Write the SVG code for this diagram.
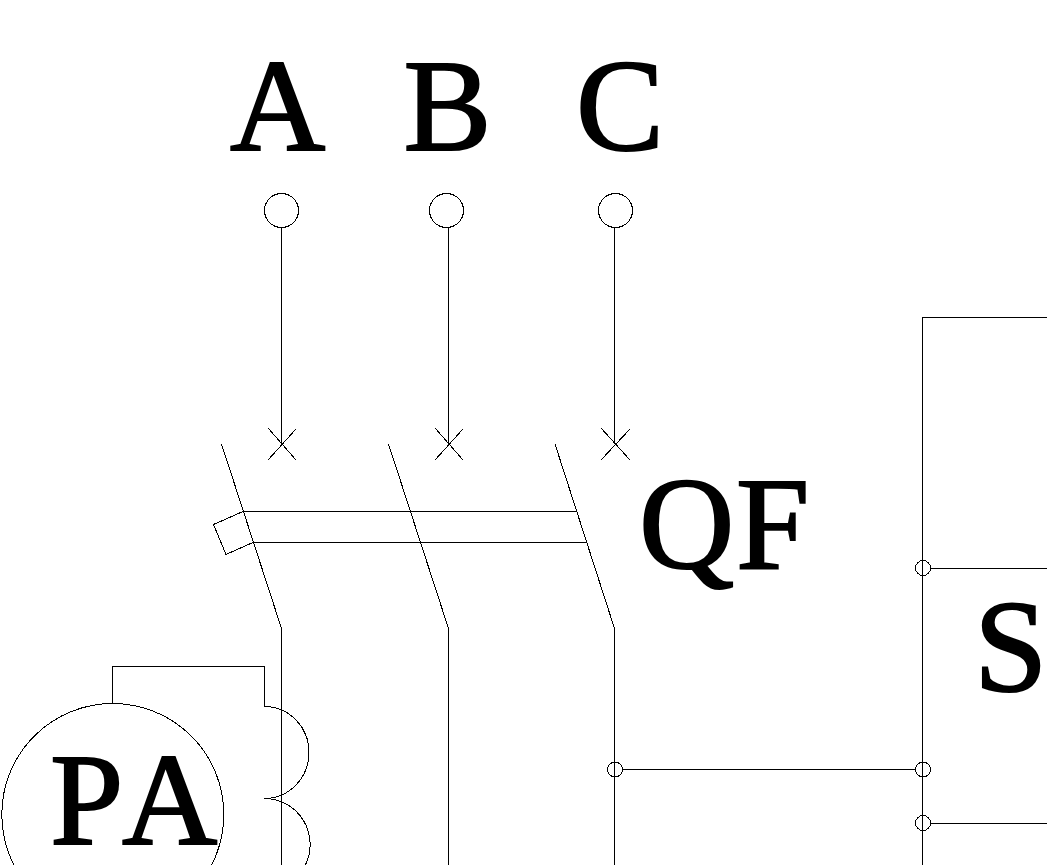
<svg xmlns="http://www.w3.org/2000/svg" width="1047" height="865" viewBox="0 0 1047 865">
<style>
.l{fill:none;stroke:#000;stroke-width:1;shape-rendering:crispEdges}
.t{font-family:"Liberation Serif","Times New Roman",serif;font-size:132px;fill:#000;stroke:#000;stroke-width:2;font-kerning:none}
</style>
<rect width="1047" height="865" fill="#fff"/>
<g id="connectors">
<path class="l" d="M281.500 227V444M448.500 227V444M614.500 227V444"/>
<path class="l" d="M268 428L296 460M296 429L268 460M435 428L463 460M463 429L435 460M601 428L630 460M630 429L601 460"/>
<path class="l" d="M221.500 444L281.500 628.500V865M388.500 444L448.500 628.500V865M555 444L614.500 628.500V865"/>
<path class="l" d="M243 511.500H576M253 542.500H586"/>
<path class="l" d="M243 511.500L213.500 524.500L226 554.500L253 542.500"/>
<path class="l" d="M112.500 703V666.500H264.500V706.500"/>
<path class="l" d="M264.500 706.500A44.500 46 0 0 1 264.500 798.500A45.500 46 0 0 1 305.400 865"/>
<path class="l" d="M922.500 317V865M922.500 317.500H1047M930 568.500H1047M622 769.500H916M930 823.500H1047"/>
</g>
<g id="node-a"><circle class="l" cx="281.500" cy="210.500" r="17"/><text class="t" x="230" y="150">A</text></g>
<g id="node-b"><circle class="l" cx="446.500" cy="210.500" r="17"/><text class="t" x="403.500" y="150">B</text></g>
<g id="node-c"><circle class="l" cx="615.500" cy="210.500" r="17"/><text class="t" x="576" y="150">C</text></g>
<g id="node-qf"><text class="t" x="639 736" y="567.500">QF</text></g>
<g id="node-s"><text class="t" x="974" y="691">S</text></g>
<g id="node-pa"><circle class="l" cx="112.800" cy="814.500" r="111"/><text class="t" x="50 122" y="843.500">PA</text></g>
<g id="junctions">
<circle class="l" cx="923" cy="568" r="7.500"/>
<circle class="l" cx="615" cy="769.500" r="7.500"/>
<circle class="l" cx="923" cy="769.500" r="7.500"/>
<circle class="l" cx="923" cy="823" r="7.500"/>
</g>
</svg>
